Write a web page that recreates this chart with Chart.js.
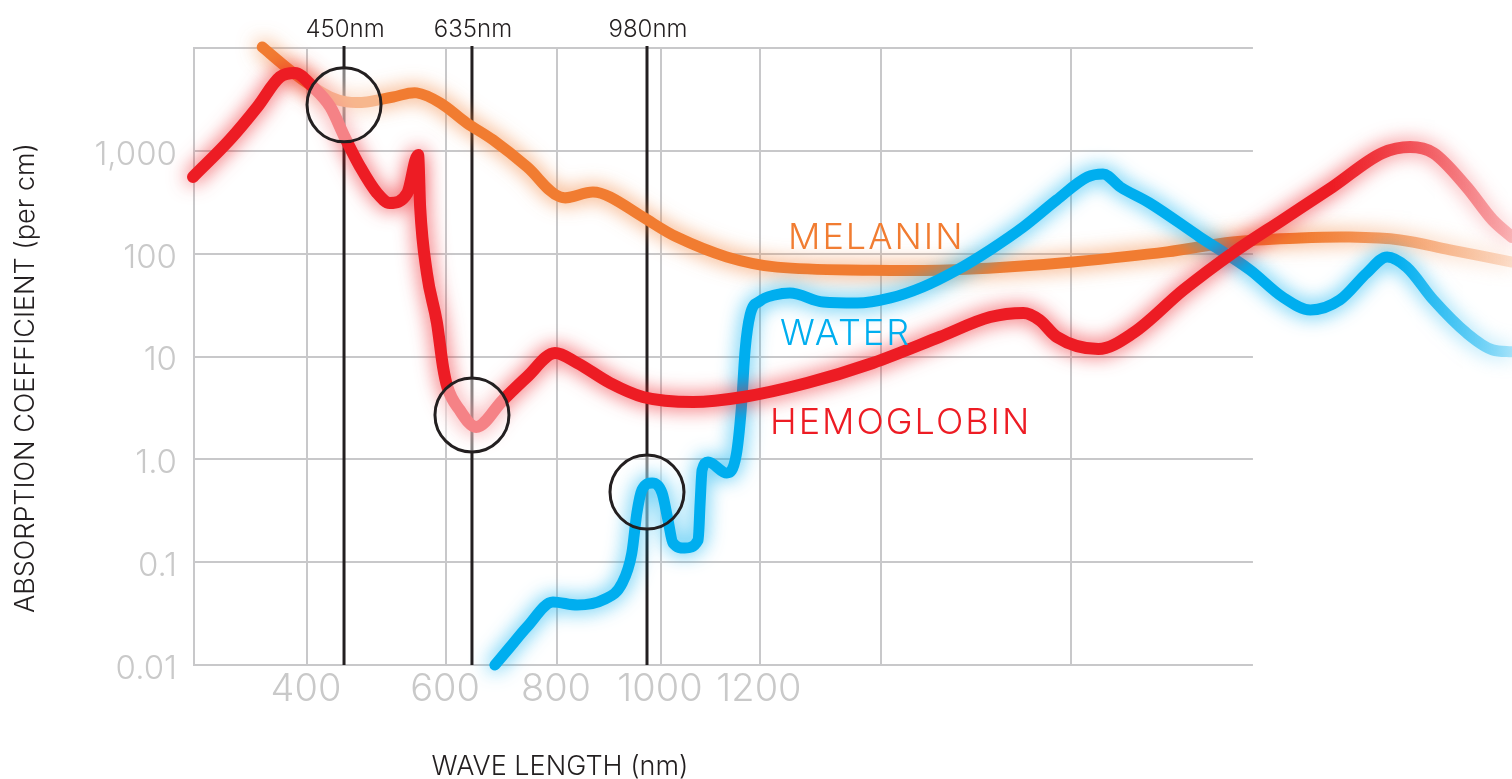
<!DOCTYPE html>
<html>
<head>
<meta charset="utf-8">
<title>Absorption coefficient</title>
<script src="https://cdn.jsdelivr.net/npm/chart.js@4.4.0/dist/chart.umd.min.js"></script>
<style>
  html, body { margin: 0; padding: 0; background: #fff; }
  #wrap { width: 1512px; height: 779px; }
</style>
</head>
<body>
<div id="wrap"><canvas id="myChart"></canvas></div>
<script>
// values: wavelength in nm, absorption per cm
var melaninNm  = [338, 377, 409, 432, 454, 484, 523, 558, 593, 628, 676, 743, 808, 873, 907, 972, 1034, 1135, 1230, 1388, 1463, 1534, 1603, 1706, 1778, 1851, 1905, 1959, 2013, 2080];
var melaninVal = [10230, 6100, 4180, 3340, 2990, 2990, 3340, 3660, 2920, 1870, 1280, 700, 356, 398, 356, 227, 145, 93, 74, 69, 69, 74, 83, 104, 130, 142, 145, 136, 109, 83];

var hemoNm  = [240, 292, 331, 363, 384, 409, 432, 451, 474, 499, 518, 544, 560, 563, 573, 588, 597, 603, 619, 643, 696, 743, 798, 842, 907, 972, 1067, 1168, 1279, 1388, 1463, 1516, 1551, 1568, 1586, 1631, 1669, 1724, 1778, 1832, 1886, 1940, 1970, 1995, 2031, 2059, 2080];
var hemoVal = [557, 1280, 2670, 5220, 5720, 4180, 2670, 1360, 697, 389, 311, 389, 912, 284, 64.9, 21.2, 7.91, 5.05, 3.02, 2.06, 3.78, 6.32, 10.8, 8.65, 5.52, 4.04, 3.61, 4.04, 5.52, 8.65, 15.5, 24.2, 26.5, 22.6, 15.5, 11.8, 16.9, 44.4, 102, 213, 445, 953, 1090, 953, 445, 213, 145];

var waterNm  = [680, 710, 743, 794, 842, 893, 931, 950, 960, 970, 988, 1004, 1016, 1026, 1050, 1077, 1081, 1085, 1097, 1135, 1154, 1164, 1172, 1182, 1202, 1226, 1251, 1306, 1362, 1411, 1445, 1481, 1516, 1551, 1586, 1619, 1636, 1655, 1687, 1742, 1797, 1832, 1862, 1894, 1923, 1945, 1966, 1995, 2031, 2059, 2080];
var waterVal = [0.01, 0.015, 0.0234, 0.041, 0.0383, 0.0429, 0.0627, 0.123, 0.301, 0.503, 0.589, 0.471, 0.257, 0.154, 0.137, 0.164, 0.376, 0.788, 0.942, 0.736, 1.10, 3.02, 11.6, 25.3, 34.7, 39.6, 41.5, 33.9, 33.1, 37.1, 47.4, 69.3, 109, 182, 333, 557, 596, 445, 311, 145, 69.3, 37.9, 28.3, 35.5, 64.9, 92.9, 74.2, 35.5, 16.9, 11.6, 11.1];

var xTicks = [400, 600, 800, 1000, 1200];
var xGrid  = [240, 400, 600, 800, 1000, 1200, 1400, 1600];
var yTicks = [0.01, 0.1, 1, 10, 100, 1000, 10000];
var yTickLabels = ['0.01', '0.1', '1.0', '10', '100', '1,000', ''];

// the marked wavelengths and where their circles sit
var markerNm = [450, 635, 980];
var markerLabels = ['450nm', '635nm', '980nm'];
var markerVal = [2800, 2.7, 0.48];

// the wavelength axis of the picture is not linear: knots in nm and their place along the axis (0..1)
var xKnots   = [240, 400, 450, 600, 635, 800, 980, 1000, 1200, 1400, 1600, 1800, 2080];
var xKnotPos = [0, 0.0857, 0.1145, 0.1911, 0.2115, 0.2752, 0.3442, 0.3541, 0.4291, 0.5209, 0.6649, 0.8036, 1];

var FONT = '"Inter", "Lato", "Open Sans", sans-serif';
var ORANGE = [241, 124, 49], RED = [237, 28, 36], BLUE = [0, 174, 239];
var GRID = '#c8c8ca', INK = '#231f20', TICK = '#c9c9c9';

function rgba(c, a) { return 'rgba(' + c[0] + ',' + c[1] + ',' + c[2] + ',' + a + ')'; }

function interp(v, from, to) {
    var i = 0;
    while (i < from.length - 2 && v > from[i + 1]) i++;
    var t = (v - from[i]) / (from[i + 1] - from[i]);
    return to[i] + t * (to[i + 1] - to[i]);
}

class WarpScale extends Chart.LinearScale {
    getPixelForValue(value) {
        return this.getPixelForDecimal(interp(value, xKnots, xKnotPos));
    }
    getValueForPixel(pixel) {
        return interp(this.getDecimalForPixel(pixel), xKnotPos, xKnots);
    }
}
WarpScale.id = 'warp';
WarpScale.defaults = Chart.LinearScale.defaults;
Chart.register(WarpScale);

function points(xs, ys) {
    return xs.map(function (x, i) { return { x: x, y: ys[i] }; });
}

// line fades out towards the right edge
function fading(col, fromNm, endAlpha) {
    return function (ctx) {
        var chart = ctx.chart;
        if (!chart.chartArea) return rgba(col, 1);
        var x0 = chart.scales.x.getPixelForValue(fromNm);
        var g = chart.ctx.createLinearGradient(x0, 0, chart.chartArea.right, 0);
        g.addColorStop(0, rgba(col, 1));
        g.addColorStop(1, rgba(col, endAlpha));
        return g;
    };
}

function dataset(label, xs, ys, col, width, fadeNm, endAlpha, order, smooth) {
    return {
        label: label,
        data: points(xs, ys),
        borderColor: fading(col, fadeNm, endAlpha),
        glowColor: rgba(col, 0.85),
        borderWidth: width,
        borderCapStyle: 'round',
        borderJoinStyle: 'round',
        cubicInterpolationMode: smooth ? 'default' : 'monotone',
        tension: smooth ? 0.35 : 0,
        pointRadius: 0,
        fill: false,
        clip: false,
        order: order
    };
}

var glow = {
    id: 'glow',
    beforeDatasetDraw: function (chart, args) {
        var ds = chart.data.datasets[args.index];
        chart.ctx.save();
        chart.ctx.shadowColor = ds.glowColor;
        chart.ctx.shadowBlur = 20;
    },
    afterDatasetDraw: function (chart) {
        chart.ctx.restore();
    }
};

function veil(chart, i) {
    var ctx = chart.ctx;
    var cx = chart.scales.x.getPixelForValue(markerNm[i]);
    var cy = chart.scales.y.getPixelForValue(markerVal[i]);
    ctx.save();
    ctx.fillStyle = 'rgba(255,255,255,0.45)';
    ctx.beginPath();
    ctx.arc(cx, cy, 37, 0, Math.PI * 2);
    ctx.fill();
    ctx.restore();
}

var backdrop = {
    id: 'backdrop',
    beforeDatasetsDraw: function (chart) {
        var ctx = chart.ctx, x = chart.scales.x, y = chart.scales.y, a = chart.chartArea;
        var gridRight = x.getPixelForValue(1800);
        ctx.save();
        ctx.strokeStyle = GRID;
        ctx.lineWidth = 2;
        xGrid.forEach(function (v) {
            var px = Math.round(x.getPixelForValue(v)) + 1;
            ctx.beginPath();
            ctx.moveTo(px, a.top);
            ctx.lineTo(px, a.bottom);
            ctx.stroke();
        });
        yTicks.forEach(function (v) {
            var py = Math.round(y.getPixelForValue(v));
            ctx.beginPath();
            ctx.moveTo(a.left, py);
            ctx.lineTo(gridRight, py);
            ctx.stroke();
        });
        ctx.strokeStyle = INK;
        ctx.lineWidth = 3;
        markerNm.forEach(function (v) {
            var px = x.getPixelForValue(v);
            ctx.beginPath();
            ctx.moveTo(px, a.top - 2);
            ctx.lineTo(px, a.bottom);
            ctx.stroke();
        });
        ctx.restore();
        veil(chart, 2);
    },
    afterDatasetsDraw: function (chart) {
        var ctx = chart.ctx, x = chart.scales.x, y = chart.scales.y;
        veil(chart, 0);
        veil(chart, 1);
        ctx.save();
        ctx.strokeStyle = INK;
        ctx.lineWidth = 3;
        markerNm.forEach(function (v, i) {
            ctx.beginPath();
            ctx.arc(x.getPixelForValue(v), y.getPixelForValue(markerVal[i]), 37, 0, Math.PI * 2);
            ctx.stroke();
        });
        ctx.fillStyle = INK;
        ctx.textAlign = 'center';
        ctx.textBaseline = 'alphabetic';
        ctx.font = '300 24px ' + FONT;
        markerNm.forEach(function (v, i) {
            ctx.fillText(markerLabels[i], x.getPixelForValue(v) + 1, 37);
        });

        ctx.textAlign = 'left';
        ctx.font = '300 36px ' + FONT;
        ctx.letterSpacing = '2px';
        ctx.fillStyle = rgba(ORANGE, 1);
        ctx.fillText('MELANIN', 788, 249);
        ctx.fillStyle = rgba(BLUE, 1);
        ctx.fillText('WATER', 780, 345);
        ctx.fillStyle = rgba(RED, 1);
        ctx.fillText('HEMOGLOBIN', 770, 434);
        ctx.letterSpacing = '0px';

        ctx.fillStyle = INK;
        ctx.font = '300 27px ' + FONT;
        ctx.textAlign = 'center';
        ctx.fillText('WAVE LENGTH (nm)', 560, 775);
        ctx.translate(34, 378);
        ctx.rotate(-Math.PI / 2);
        ctx.fillText('ABSORPTION COEFFICIENT (per cm)', 0, 0);
        ctx.restore();
    }
};

var ctx = document.getElementById('myChart').getContext('2d');
var chart = new Chart(ctx, {
    type: 'line',
    data: {
        datasets: [
            dataset('Hemoglobin', hemoNm, hemoVal, RED, 12, 1886, 0.28, 1, false),
            dataset('Water', waterNm, waterVal, BLUE, 11, 1950, 0.3, 2, false),
            dataset('Melanin', melaninNm, melaninVal, ORANGE, 11, 1851, 0.22, 3, true)
        ]
    },
    options: {
        responsive: true,
        maintainAspectRatio: false,
        animation: false,
        layout: { padding: { top: 48, right: 0, bottom: 0, left: 0 } },
        plugins: { legend: { display: false }, tooltip: { enabled: false } },
        scales: {
            x: {
                type: 'warp',
                min: 240,
                max: 2080,
                grid: { display: false },
                border: { display: false },
                afterBuildTicks: function (s) { s.ticks = xTicks.map(function (v) { return { value: v }; }); },
                afterFit: function (s) { s.height = 114; },
                ticks: {
                    autoSkip: false,
                    maxRotation: 0,
                    padding: -6,
                    color: TICK,
                    font: { family: FONT, size: 38, weight: 300 },
                    callback: function (v) { return String(v); }
                }
            },
            y: {
                type: 'logarithmic',
                min: 0.01,
                max: 10000,
                grid: { display: false },
                border: { display: false },
                afterBuildTicks: function (s) { s.ticks = yTicks.map(function (v) { return { value: v }; }); },
                afterFit: function (s) { s.width = 193; },
                ticks: {
                    autoSkip: false,
                    padding: 8,
                    labelOffset: 4,
                    color: TICK,
                    font: { family: FONT, size: 33, weight: 300 },
                    callback: function (v, i) { return yTickLabels[i]; }
                }
            }
        }
    },
    plugins: [glow, backdrop]
});
</script>
</body>
</html>
